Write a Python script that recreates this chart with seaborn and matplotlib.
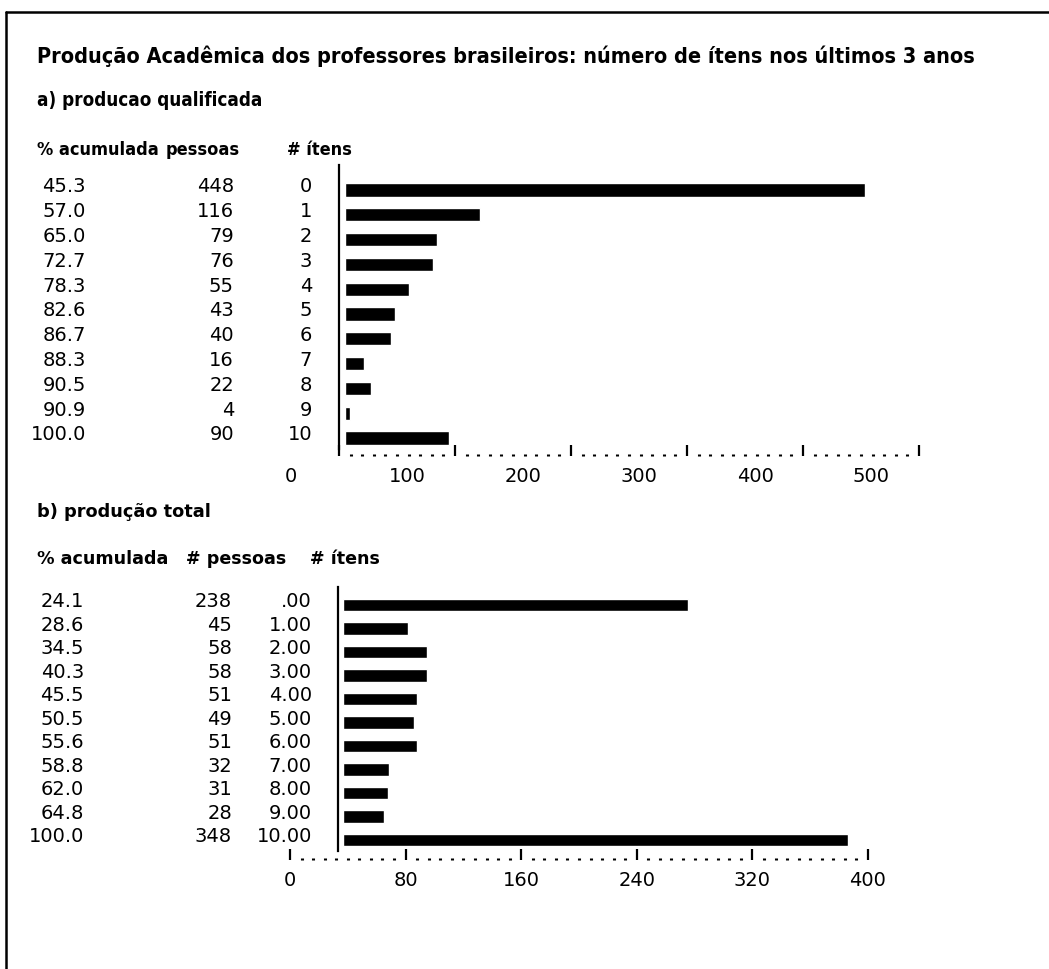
import matplotlib
matplotlib.use("Agg")
import matplotlib.pyplot as plt
import seaborn as sns
from matplotlib import transforms
from matplotlib.ticker import MultipleLocator
from matplotlib.lines import Line2D

# ---------------- data ----------------
title = "Produção Acadêmica dos professores brasileiros: número de ítens nos últimos 3 anos"

sub_a = "a) producao qualificada"
hdr_a = ["% acumulada", "pessoas", "# ítens"]
itens_a = ["0", "1", "2", "3", "4", "5", "6", "7", "8", "9", "10"]
pessoas_a = [448, 116, 79, 76, 55, 43, 40, 16, 22, 4, 90]
acum_a = ["45.3", "57.0", "65.0", "72.7", "78.3", "82.6", "86.7", "88.3", "90.5", "90.9", "100.0"]
scale_a = [0, 100, 200, 300, 400, 500]

sub_b = "b) produção total"
hdr_b = ["% acumulada", "# pessoas", "# ítens"]
itens_b = [".00", "1.00", "2.00", "3.00", "4.00", "5.00", "6.00", "7.00", "8.00", "9.00", "10.00"]
pessoas_b = [238, 45, 58, 58, 51, 49, 51, 32, 31, 28, 348]
acum_b = ["24.1", "28.6", "34.5", "40.3", "45.5", "50.5", "55.6", "58.8", "62.0", "64.8", "100.0"]
scale_b = [0, 80, 160, 240, 320, 400]

# ---------------- figure ----------------
sns.set_theme(style="white")
plt.rcParams["font.family"] = ["DejaVu Sans"]
plt.rcParams["text.color"] = "black"

W, H = 1049, 970
fig = plt.figure(figsize=(W / 100, H / 100), dpi=100)
fig.patch.set_facecolor("white")


def fx(px):
    return px / W


def fy(py):
    return 1 - py / H


def add_ax(x0, y0, x1, y1):
    return fig.add_axes([fx(x0), fy(y1), (x1 - x0) / W, (y1 - y0) / H])


NUM_FS = 14
COND = dict(fontweight="bold", fontstretch="condensed", color="black")
WIDE = dict(fontweight="bold", color="black")

# page frame (left and top edges of the scanned page)
fig.add_artist(Line2D([fx(6), fx(6)], [fy(13), 0], transform=fig.transFigure, color="black", lw=1.8))
fig.add_artist(Line2D([fx(6), 1], [fy(13), fy(13)], transform=fig.transFigure, color="black", lw=1.8))

# title, auto-fitted to the printed width
t = fig.text(fx(37), fy(56), title, fontsize=14, ha="left", va="center", **COND)
fig.canvas.draw()
bw = t.get_window_extent().width
TITLE_FS = 14 * 948 / bw
t.set_fontsize(TITLE_FS)


def panel(cats, vals, acum, ticks, sub, hdr, cfg):
    style, fs = cfg["font"]
    fig.text(fx(cfg["sub_x"]), fy(cfg["sub_y"]), sub, fontsize=cfg["sub_fs"], ha="left",
             va="center", **style)
    for h, hx in zip(hdr, cfg["hdr_x"]):
        fig.text(fx(hx), fy(cfg["hdr_y"]), h, fontsize=fs, ha="left", va="center", **style)

    spine, top, bottom = cfg["spine"], cfg["top"], cfg["bottom"]
    right = spine + 620
    ax = add_ax(spine, top, right, bottom)
    sns.barplot(x=vals, y=cats, order=cats, orient="h", color="black",
                saturation=1, width=0.53, ax=ax)
    ppu = cfg["ppu"]
    lo = -(cfg["origin"] - spine) / ppu
    ax.set_xlim(lo, lo + (right - spine) / ppu)
    dy, row0 = cfg["dy"], cfg["row0"]
    ax.set_ylim((bottom - row0) / dy, (top - row0) / dy)
    ax.set_facecolor("none")
    for s in ["top", "right", "bottom"]:
        ax.spines[s].set_visible(False)
    ax.spines["left"].set_color("black")
    ax.spines["left"].set_linewidth(1.6)
    ax.set_xticks([])
    ax.set_xlabel("")
    ax.set_ylabel("")
    ax.set_yticks(range(len(cats)), cats)
    ax.tick_params(axis="y", length=0, pad=(spine - cfg["col3"]) * 0.72,
                   labelsize=NUM_FS, labelcolor="black")
    up = transforms.ScaledTranslation(0, 6 / 100, fig.dpi_scale_trans)
    for lab in ax.get_yticklabels():
        lab.set_transform(lab.get_transform() + up)

    tr = transforms.blended_transform_factory(fig.transFigure, ax.transData) + up
    for i, (a, p) in enumerate(zip(acum, vals)):
        ax.text(fx(cfg["col1"]), i, a, transform=tr, ha="right", va="center_baseline",
                fontsize=NUM_FS, color="black")
        ax.text(fx(cfg["col2"]), i, str(p), transform=tr, ha="right", va="center_baseline",
                fontsize=NUM_FS, color="black")

    # printed scale line  I.........I.........I
    ly = cfg["line_y"]
    sax = add_ax(cfg["sx0"], ly - 1, cfg["sx1"], ly)
    sax.set_facecolor("none")
    for s in sax.spines.values():
        s.set_visible(False)
    sax.set_xlim(ticks[0], ticks[-1])
    sax.set_yticks([])
    sax.set_xticks(ticks, [str(v) for v in ticks])
    sax.xaxis.set_minor_locator(MultipleLocator((ticks[1] - ticks[0]) / 10))
    sax.tick_params(axis="x", which="both", bottom=True, top=False)
    sax.tick_params(axis="x", which="major", direction="in", length=8, width=1.6,
                    color="black", labelsize=NUM_FS, labelcolor="black", pad=cfg["lab_pad"])
    sax.tick_params(axis="x", which="minor", direction="in", length=1.8, width=2.2, color="black")
    if cfg["lab_shift"]:
        sh = transforms.ScaledTranslation(cfg["lab_shift"] / 100, 0, fig.dpi_scale_trans)
        for lab in sax.get_xticklabels():
            lab.set_transform(lab.get_transform() + sh)
    return ax


panel(itens_a, pessoas_a, acum_a, scale_a, sub_a, hdr_a,
      dict(font=(COND, 13), sub_fs=13.5, sub_x=37, sub_y=101, hdr_y=150, hdr_x=[37, 166, 287],
           spine=339, top=166, bottom=450, origin=345, ppu=1.16,
           row0=191, dy=24.8, col1=86, col2=234, col3=312,
           line_y=457, sx0=339, sx1=919, lab_pad=7, lab_shift=-48))

panel(itens_b, pessoas_b, acum_b, scale_b, sub_b, hdr_b,
      dict(font=(WIDE, 12.6), sub_fs=12.8, sub_x=37, sub_y=512, hdr_y=559, hdr_x=[37, 186, 310],
           spine=338, top=588, bottom=852, origin=343, ppu=1.45,
           row0=606, dy=23.5, col1=84, col2=232, col3=312,
           line_y=861, sx0=290, sx1=868, lab_pad=7, lab_shift=0))

fig.savefig("out.png", dpi=100, facecolor="white")
